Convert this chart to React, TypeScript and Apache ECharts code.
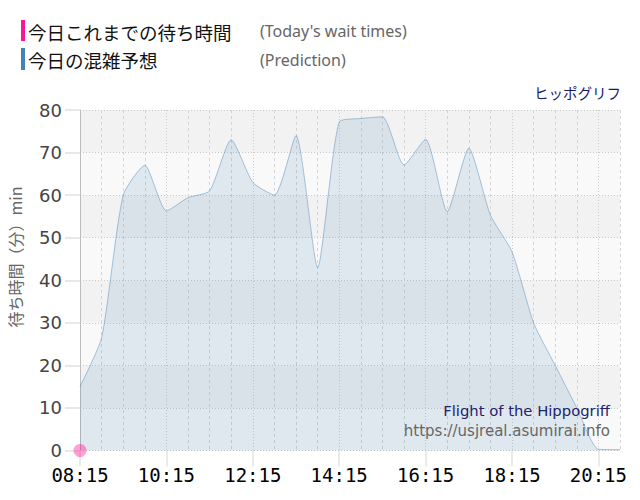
import React, { useEffect, useRef } from 'react';
import * as echarts from 'echarts';

const times = [
  '08:15', '08:45', '09:15', '09:45', '10:15', '10:45', '11:15', '11:45',
  '12:15', '12:45', '13:15', '13:45', '14:15', '14:45', '15:15', '15:45',
  '16:15', '16:45', '17:15', '17:45', '18:15', '18:45', '19:15', '19:45',
  '20:15', '20:45',
];
const prediction = [
  15, 26.5, 60, 67, 56.3, 59.4, 61, 73, 63, 60, 74, 43, 77.2, 78, 78.4, 67.1,
  73.1, 56.1, 71, 55.3, 46.7, 30, 20, 10, 0.3, 0.2,
];
const todayWait = [0];
const legendJa = ['今日これまでの待ち時間', '今日の混雑予想'];
const legendEn = ["(Today's wait times)", '(Prediction)'];
const legendColors = ['#ff1493', '#4682b4'];
const attraction = 'ヒッポグリフ';
const watermark = ['Flight of the Hippogriff', 'https://usjreal.asumirai.info'];
const yName = '待ち時間（分）min';

export default function App() {
  const ref = useRef<HTMLDivElement>(null);
  useEffect(() => {
    document.body.style.margin = '0';
    const chart = echarts.init(ref.current!, undefined, { renderer: 'svg' });
    const jaFont = '"Noto Sans CJK JP", sans-serif';
    chart.setOption({
      animation: false,
      backgroundColor: '#ffffff',
      grid: { left: 80, right: 20, top: 110, bottom: 49.5 },
      xAxis: [
        {
          type: 'category',
          data: times,
          boundaryGap: false,
          axisLine: { show: false },
          axisTick: {
            show: true,
            interval: (i: number) => i % 4 === 0,
            length: 16,
            lineStyle: { color: '#e3e3e3', width: 1.5 },
          },
          axisLabel: {
            interval: (i: number) => i % 4 === 0,
            margin: 15,
            hideOverlap: false,
            fontFamily: '"DejaVu Sans Mono", monospace',
            fontSize: 19,
            color: '#000',
          },
          splitLine: {
            show: true,
            interval: (i: number) => i % 4 !== 0,
            lineStyle: { color: '#d4d4d4', type: [3, 3], width: 1 },
          },
        },
        {
          type: 'category',
          data: times,
          boundaryGap: false,
          axisLine: { show: false },
          axisTick: { show: false },
          axisLabel: { show: false },
          splitLine: {
            show: true,
            interval: (i: number) => i % 4 === 0,
            lineStyle: { color: '#cccccc', type: [1, 2], width: 1 },
          },
        },
      ],
      yAxis: {
        type: 'value',
        min: 0,
        max: 80,
        interval: 10,
        axisLine: { show: true, lineStyle: { color: '#bdbdbd', width: 1 } },
        axisTick: { show: true, length: 15, lineStyle: { color: '#e8e8e8', width: 2 } },
        axisLabel: {
          margin: 18,
          fontFamily: '"DejaVu Sans", sans-serif',
          fontSize: 18,
          color: '#444',
        },
        splitLine: { show: true, lineStyle: { color: '#c8c8c8', type: [1, 2], width: 1 } },
        splitArea: { show: true, areaStyle: { color: ['#f9f9f9', '#f2f2f2'] } },
      },
      series: [
        {
          type: 'line',
          data: prediction,
          smooth: 0.2,
          symbol: 'none',
          lineStyle: { color: 'rgba(70,130,180,0.45)', width: 1 },
          areaStyle: { color: 'rgba(70,130,180,0.19)' },
          z: 2,
        },
        {
          type: 'scatter',
          data: todayWait.map((v, i) => [i, v]),
          symbolSize: 13,
          itemStyle: { color: 'rgba(255,20,147,0.5)' },
          clip: false,
          z: 5,
        },
      ],
      graphic: [
        { type: 'rect', shape: { x: 21, y: 20, width: 4, height: 21 }, style: { fill: legendColors[0] } },
        { type: 'rect', shape: { x: 21, y: 48, width: 4, height: 22 }, style: { fill: legendColors[1] } },
        {
          type: 'text', x: 28, y: 32,
          style: { text: legendJa[0], font: `18.5px ${jaFont}`, fill: '#111', align: 'left', verticalAlign: 'middle' },
        },
        {
          type: 'text', x: 28, y: 60,
          style: { text: legendJa[1], font: `18.5px ${jaFont}`, fill: '#111', align: 'left', verticalAlign: 'middle' },
        },
        {
          type: 'text', x: 260, y: 31,
          style: { text: legendEn[0], font: '16px "Noto Sans", sans-serif', fill: '#666', align: 'left', verticalAlign: 'middle' },
        },
        {
          type: 'text', x: 260, y: 60,
          style: { text: legendEn[1], font: '16px "Noto Sans", sans-serif', fill: '#666', align: 'left', verticalAlign: 'middle' },
        },
        {
          type: 'text', x: 621, y: 92,
          style: { text: attraction, font: `14.5px ${jaFont}`, fill: '#191970', align: 'right', verticalAlign: 'middle' },
        },
        {
          type: 'text', x: 610, y: 410, z: 10,
          style: { text: watermark[0], font: '14.8px "DejaVu Sans", sans-serif', fill: '#22226e', align: 'right', verticalAlign: 'middle' },
        },
        {
          type: 'text', x: 610, y: 431, z: 10,
          style: { text: watermark[1], font: '15px "DejaVu Sans", sans-serif', fill: '#666', align: 'right', verticalAlign: 'middle' },
        },
        {
          type: 'text', x: 15, y: 257, rotation: Math.PI / 2,
          style: { text: yName, font: `16px ${jaFont}`, fill: '#666', align: 'center', verticalAlign: 'middle' },
        },
      ],
    });
    return () => chart.dispose();
  }, []);
  return (
    <div
      ref={ref}
      style={{ position: 'absolute', left: 0, top: 0, width: 640, height: 500 }}
    />
  );
}
